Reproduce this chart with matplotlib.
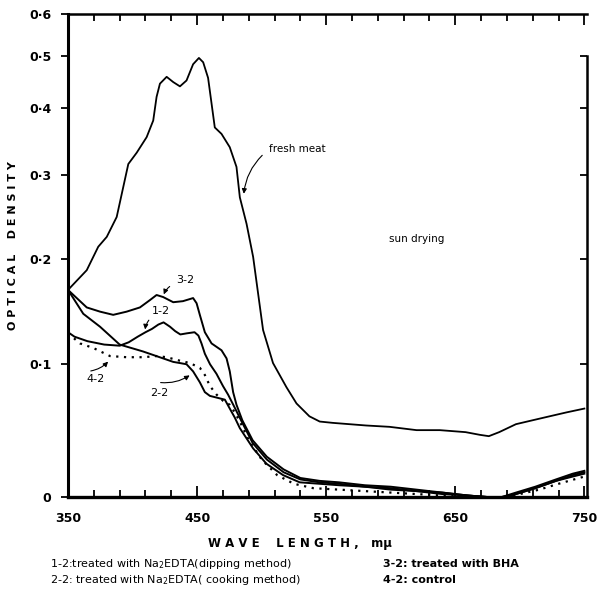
import numpy as np
import matplotlib
matplotlib.use("Agg")
import matplotlib.pyplot as plt

# wavelength (m-mu) / optical density
fresh_wl = [350, 364.5, 373.4, 380, 387.7, 396.7, 403.2, 410.9, 416, 418.6, 421.2, 426.4,
            431.5, 436.7, 441.8, 446.9, 451.4, 454.7, 458.5, 463.7, 468.9, 475.3, 480.5,
            483.1, 488.3, 493.4, 497.3, 501.1, 508.8, 519.2, 527, 537, 545, 555, 581, 599,
            620, 638, 658, 669, 676, 684, 697, 710, 723, 736, 750]
fresh_od = [0.168, 0.188, 0.213, 0.224, 0.247, 0.315, 0.331, 0.354, 0.380, 0.420, 0.444,
            0.457, 0.447, 0.439, 0.450, 0.482, 0.495, 0.486, 0.455, 0.369, 0.359, 0.339,
            0.311, 0.271, 0.239, 0.202, 0.164, 0.130, 0.101, 0.081, 0.068, 0.058, 0.054,
            0.053, 0.051, 0.050, 0.0475, 0.0475, 0.046, 0.044, 0.043, 0.046, 0.052, 0.055,
            0.058, 0.061, 0.064]

s32_wl = [350, 364.5, 374.8, 385, 395.4, 405.7, 413.4, 418.6, 423.7, 431.5, 439, 446.9,
          449.6, 452.1, 456, 461.2, 468.9, 472.8, 475.3, 477.9, 480.5, 485, 493, 504, 517,
          530, 545, 560, 580, 600, 620, 640, 660, 675, 686, 697, 712, 728, 741, 750]
s32_od = [0.168, 0.151, 0.147, 0.144, 0.147, 0.151, 0.158, 0.163, 0.161, 0.156, 0.157,
          0.160, 0.155, 0.144, 0.128, 0.118, 0.112, 0.105, 0.094, 0.077, 0.067, 0.055,
          0.040, 0.028, 0.019, 0.013, 0.011, 0.010, 0.008, 0.007, 0.005, 0.003, 0.001,
          0.000, 0.000, 0.003, 0.007, 0.012, 0.016, 0.018]

s12_wl = [350, 355, 365, 378, 390, 397, 404, 410, 415, 420, 424, 429, 433, 437, 442, 448,
          451, 453.4, 456, 460, 465, 470, 474, 478, 484, 493, 504, 517, 530, 545, 560, 580,
          600, 620, 640, 660, 675, 686, 697, 712, 728, 741, 750]
s12_od = [0.128, 0.124, 0.120, 0.117, 0.116, 0.119, 0.124, 0.128, 0.131, 0.135, 0.137,
          0.133, 0.129, 0.126, 0.127, 0.128, 0.125, 0.118, 0.109, 0.100, 0.092, 0.082,
          0.075, 0.067, 0.055, 0.038, 0.026, 0.017, 0.012, 0.010, 0.009, 0.007, 0.006,
          0.004, 0.003, 0.001, 0.000, 0.000, 0.002, 0.006, 0.011, 0.015, 0.017]

s22_wl = [350, 361.8, 374.8, 390, 408, 421, 431.5, 436.7, 441.8, 446.9, 452.1, 456, 459.9,
          467.6, 471.5, 475.3, 479.2, 483.1, 493.4, 503.7, 516.6, 529.5, 545, 560, 580, 600,
          620, 640, 660, 675, 686, 697, 712, 728, 741, 750]
s22_od = [0.168, 0.145, 0.133, 0.117, 0.111, 0.106, 0.102, 0.101, 0.100, 0.094, 0.085,
          0.077, 0.074, 0.072, 0.071, 0.064, 0.057, 0.049, 0.034, 0.023, 0.015, 0.010,
          0.009, 0.008, 0.007, 0.005, 0.004, 0.002, 0.001, 0.000, -0.001, 0.002, 0.006,
          0.011, 0.014, 0.016]

s42_wl = [350, 359.3, 369.6, 382.5, 395.4, 408.3, 418.6, 426.4, 436.7, 444.4, 452.1, 456,
          459.9, 465.1, 470.2, 475.3, 479.2, 483.1, 490, 500, 512, 525, 540, 560, 580, 600,
          620, 640, 660, 675, 688, 700, 715, 730, 742, 750]
s42_od = [0.127, 0.118, 0.114, 0.107, 0.106, 0.106, 0.107, 0.106, 0.103, 0.101, 0.097,
          0.091, 0.082, 0.075, 0.070, 0.067, 0.061, 0.054, 0.040, 0.026, 0.015, 0.009,
          0.006, 0.005, 0.004, 0.003, 0.002, 0.001, 0.000, -0.001, -0.001, 0.002, 0.005,
          0.009, 0.012, 0.014]

x_major = [350, 450, 550, 650, 750]
y_ticks = [0, 0.1, 0.2, 0.3, 0.4, 0.5, 0.6]
y_labels = ["0", "0·1", "0·2", "0·3", "0·4", "0·5", "0·6"]


# chart paper is linear in transmittance, so OD axis is compressed upward
def fwd(y):
    return 1 - 10 ** (-np.asarray(y, dtype=float))


def inv(v):
    return -np.log10(np.clip(1 - np.asarray(v, dtype=float), 1e-9, None))


fig = plt.figure(figsize=(6.02, 5.91), dpi=100)
ax = fig.add_axes([0.113, 0.159, 0.862, 0.818])

ax.plot(fresh_wl, fresh_od, color="black", lw=1.3)
ax.plot(s32_wl, s32_od, color="black", lw=1.4)
ax.plot(s12_wl, s12_od, color="black", lw=1.4)
ax.plot(s22_wl, s22_od, color="black", lw=1.4)
ax.plot(s42_wl, s42_od, color="black", lw=1.6, linestyle=(0, (1, 2.5)))

ax.set_yscale("function", functions=(fwd, inv))
ax.set_ylim(0, 0.6)
ax.set_xlim(350, 752)

ax.set_xticks(x_major)
ax.set_xticks(np.arange(350, 751, 20), minor=True)
ax.set_xticklabels([str(v) for v in x_major], fontsize=9, fontweight="bold")
ax.tick_params(axis="x", which="both", direction="in", top=True, bottom=True,
               width=1.3, pad=11)
ax.tick_params(axis="x", which="major", length=8)
ax.tick_params(axis="x", which="minor", length=5)

ax.set_yticks(y_ticks)
ax.set_yticklabels(y_labels, fontsize=9, fontweight="bold")
ax.yaxis.set_minor_locator(matplotlib.ticker.NullLocator())
ax.tick_params(axis="y", direction="out", length=5, width=1.3, pad=7, right=False)

ax.spines["right"].set_visible(False)
ax.spines["left"].set_linewidth(2.2)
ax.spines["bottom"].set_linewidth(2.4)
ax.spines["top"].set_linewidth(1.8)

# right side: short ticks pointing inward, spine only up to 0.5
ax2 = ax.twinx()
ax2.set_yscale("function", functions=(fwd, inv))
ax2.set_ylim(0, 0.6)
ax2.set_yticks(y_ticks[:6])
ax2.set_yticklabels([])
ax2.yaxis.set_minor_locator(matplotlib.ticker.NullLocator())
ax2.tick_params(axis="y", direction="in", length=5, width=1.3)
ax2.spines["right"].set_bounds(0, 0.5)
ax2.spines["right"].set_linewidth(1.8)
for side in ["left", "top", "bottom"]:
    ax2.spines[side].set_visible(False)

ax.set_ylabel("O P T I C A L    D E N S I T Y", fontsize=8, fontweight="bold")
ax.yaxis.set_label_coords(-0.096, 0.52)
fig.text(0.498, 0.081, "W A V E    L E N G T H ,   mμ", ha="center", va="center",
         fontsize=8.5, fontweight="bold")

arrow = dict(arrowstyle="-|>", color="black", lw=0.8, mutation_scale=7,
             connectionstyle="arc3,rad=0.2")
ax.text(506, 0.336, "fresh meat", fontsize=7.5, va="center")
ax.annotate("", xy=(486, 0.272), xytext=(502, 0.330), arrowprops=arrow)
ax.text(599, 0.222, "sun drying", fontsize=7.5, va="center")
ax.text(434, 0.178, "3-2", fontsize=8, va="center")
ax.annotate("", xy=(423.5, 0.161), xytext=(430.5, 0.173), arrowprops=arrow)
ax.text(415, 0.148, "1-2", fontsize=8, va="center")
ax.annotate("", xy=(409.6, 0.128), xytext=(414, 0.141), arrowprops=arrow)
ax.text(371, 0.088, "4-2", fontsize=8, va="center", ha="center")
ax.annotate("", xy=(382.5, 0.104), xytext=(365.5, 0.094), arrowprops=arrow)
ax.text(420.4, 0.076, "2-2", fontsize=8, va="center", ha="center")
ax.annotate("", xy=(446, 0.092), xytext=(419.6, 0.085), arrowprops=arrow)

fig.text(0.083, 0.0457, "1-2:treated with Na$_2$EDTA(dipping method)", fontsize=8,
         va="center")
fig.text(0.636, 0.0457, "3-2: treated with BHA", fontsize=8, va="center",
         fontweight="bold")
fig.text(0.083, 0.0186, "2-2: treated with Na$_2$EDTA( cooking method)", fontsize=8,
         va="center")
fig.text(0.636, 0.0186, "4-2: control", fontsize=8, va="center", fontweight="bold")

fig.savefig("out.png", dpi=100)
